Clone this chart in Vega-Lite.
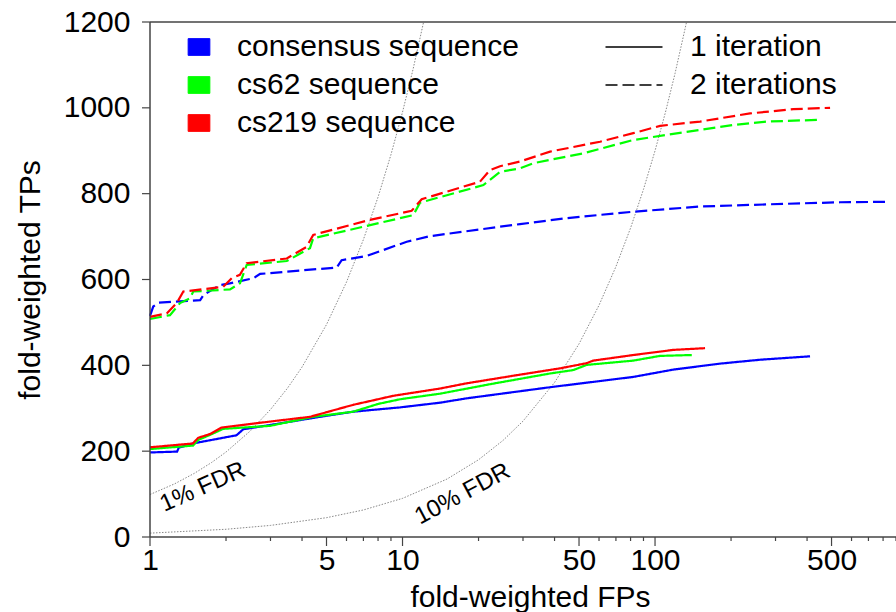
{
  "$schema": "https://vega.github.io/schema/vega-lite/v6.json",
  "width": 746,
  "height": 515,
  "autosize": {"type": "none"},
  "padding": {"left": 150, "top": 22, "right": 0, "bottom": 75},
  "background": "white",
  "config": {
    "view": {"stroke": null},
    "font": "Liberation Sans",
    "axis": {"grid": false, "domain": false, "ticks": false, "tickSize": 0, "labelFlush": false, "labelColor": "black", "labelFont": "Liberation Sans", "labelFontSize": 30, "titleFont": "Liberation Sans", "titleFontSize": 30, "titleFontWeight": "normal", "titleColor": "black"},
    "legend": {"labelFont": "Liberation Sans", "labelFontSize": 30, "labelColor": "black", "labelLimit": 500, "padding": 0}
  },
  "datasets": {
    "fdr": [
      {"fp": 1, "tp": 99, "fdr": "1%"}, {"fp": 1.25, "tp": 123.75, "fdr": "1%"}, {"fp": 1.5, "tp": 148.5, "fdr": "1%"}, {"fp": 1.75, "tp": 173.25, "fdr": "1%"}, {"fp": 2, "tp": 198, "fdr": "1%"}, {"fp": 2.5, "tp": 247.5, "fdr": "1%"}, {"fp": 3, "tp": 297, "fdr": "1%"}, {"fp": 3.5, "tp": 346.5, "fdr": "1%"}, {"fp": 4, "tp": 396, "fdr": "1%"}, {"fp": 5, "tp": 495, "fdr": "1%"}, {"fp": 6, "tp": 594, "fdr": "1%"}, {"fp": 7, "tp": 693, "fdr": "1%"}, {"fp": 8, "tp": 792, "fdr": "1%"}, {"fp": 9, "tp": 891, "fdr": "1%"}, {"fp": 10, "tp": 990, "fdr": "1%"}, {"fp": 11, "tp": 1089, "fdr": "1%"}, {"fp": 12.12, "tp": 1200, "fdr": "1%"},
      {"fp": 1, "tp": 9, "fdr": "10%"}, {"fp": 2, "tp": 18, "fdr": "10%"}, {"fp": 3, "tp": 27, "fdr": "10%"}, {"fp": 5, "tp": 45, "fdr": "10%"}, {"fp": 7, "tp": 63, "fdr": "10%"}, {"fp": 10, "tp": 90, "fdr": "10%"}, {"fp": 15, "tp": 135, "fdr": "10%"}, {"fp": 20, "tp": 180, "fdr": "10%"}, {"fp": 25, "tp": 225, "fdr": "10%"}, {"fp": 30, "tp": 270, "fdr": "10%"}, {"fp": 40, "tp": 360, "fdr": "10%"}, {"fp": 50, "tp": 450, "fdr": "10%"}, {"fp": 60, "tp": 540, "fdr": "10%"}, {"fp": 70, "tp": 630, "fdr": "10%"}, {"fp": 80, "tp": 720, "fdr": "10%"}, {"fp": 90, "tp": 810, "fdr": "10%"}, {"fp": 100, "tp": 900, "fdr": "10%"}, {"fp": 110, "tp": 990, "fdr": "10%"}, {"fp": 120, "tp": 1080, "fdr": "10%"}, {"fp": 133.3, "tp": 1200, "fdr": "10%"}
    ],
    "roc": [
      {"fp": 1.0, "tp": 197, "seq": "consensus sequence", "iter": "1 iteration"},
      {"fp": 1.28, "tp": 199, "seq": "consensus sequence", "iter": "1 iteration"},
      {"fp": 1.30, "tp": 208, "seq": "consensus sequence", "iter": "1 iteration"},
      {"fp": 1.48, "tp": 218, "seq": "consensus sequence", "iter": "1 iteration"},
      {"fp": 2.2, "tp": 237, "seq": "consensus sequence", "iter": "1 iteration"},
      {"fp": 2.34, "tp": 251, "seq": "consensus sequence", "iter": "1 iteration"},
      {"fp": 2.99, "tp": 261, "seq": "consensus sequence", "iter": "1 iteration"},
      {"fp": 4.71, "tp": 280, "seq": "consensus sequence", "iter": "1 iteration"},
      {"fp": 6.38, "tp": 292, "seq": "consensus sequence", "iter": "1 iteration"},
      {"fp": 9.78, "tp": 302, "seq": "consensus sequence", "iter": "1 iteration"},
      {"fp": 14.1, "tp": 313, "seq": "consensus sequence", "iter": "1 iteration"},
      {"fp": 17.9, "tp": 323, "seq": "consensus sequence", "iter": "1 iteration"},
      {"fp": 38.4, "tp": 349, "seq": "consensus sequence", "iter": "1 iteration"},
      {"fp": 82, "tp": 373, "seq": "consensus sequence", "iter": "1 iteration"},
      {"fp": 118, "tp": 390, "seq": "consensus sequence", "iter": "1 iteration"},
      {"fp": 181, "tp": 404, "seq": "consensus sequence", "iter": "1 iteration"},
      {"fp": 260, "tp": 413, "seq": "consensus sequence", "iter": "1 iteration"},
      {"fp": 411, "tp": 421, "seq": "consensus sequence", "iter": "1 iteration"},

      {"fp": 1.0, "tp": 205, "seq": "cs62 sequence", "iter": "1 iteration"},
      {"fp": 1.48, "tp": 213, "seq": "cs62 sequence", "iter": "1 iteration"},
      {"fp": 1.55, "tp": 226, "seq": "cs62 sequence", "iter": "1 iteration"},
      {"fp": 1.73, "tp": 238, "seq": "cs62 sequence", "iter": "1 iteration"},
      {"fp": 1.95, "tp": 252, "seq": "cs62 sequence", "iter": "1 iteration"},
      {"fp": 2.99, "tp": 259, "seq": "cs62 sequence", "iter": "1 iteration"},
      {"fp": 4.43, "tp": 280, "seq": "cs62 sequence", "iter": "1 iteration"},
      {"fp": 6.38, "tp": 292, "seq": "cs62 sequence", "iter": "1 iteration"},
      {"fp": 8.0, "tp": 310, "seq": "cs62 sequence", "iter": "1 iteration"},
      {"fp": 9.78, "tp": 321, "seq": "cs62 sequence", "iter": "1 iteration"},
      {"fp": 14.1, "tp": 334, "seq": "cs62 sequence", "iter": "1 iteration"},
      {"fp": 22.2, "tp": 356, "seq": "cs62 sequence", "iter": "1 iteration"},
      {"fp": 38.4, "tp": 381, "seq": "cs62 sequence", "iter": "1 iteration"},
      {"fp": 47.5, "tp": 389, "seq": "cs62 sequence", "iter": "1 iteration"},
      {"fp": 53.6, "tp": 401, "seq": "cs62 sequence", "iter": "1 iteration"},
      {"fp": 82, "tp": 411, "seq": "cs62 sequence", "iter": "1 iteration"},
      {"fp": 104.7, "tp": 422, "seq": "cs62 sequence", "iter": "1 iteration"},
      {"fp": 139.8, "tp": 424, "seq": "cs62 sequence", "iter": "1 iteration"},

      {"fp": 1.0, "tp": 209, "seq": "cs219 sequence", "iter": "1 iteration"},
      {"fp": 1.48, "tp": 218, "seq": "cs219 sequence", "iter": "1 iteration"},
      {"fp": 1.55, "tp": 231, "seq": "cs219 sequence", "iter": "1 iteration"},
      {"fp": 1.73, "tp": 240, "seq": "cs219 sequence", "iter": "1 iteration"},
      {"fp": 1.92, "tp": 255, "seq": "cs219 sequence", "iter": "1 iteration"},
      {"fp": 2.99, "tp": 269, "seq": "cs219 sequence", "iter": "1 iteration"},
      {"fp": 4.30, "tp": 280, "seq": "cs219 sequence", "iter": "1 iteration"},
      {"fp": 6.38, "tp": 308, "seq": "cs219 sequence", "iter": "1 iteration"},
      {"fp": 9.19, "tp": 329, "seq": "cs219 sequence", "iter": "1 iteration"},
      {"fp": 14.1, "tp": 346, "seq": "cs219 sequence", "iter": "1 iteration"},
      {"fp": 17.9, "tp": 358, "seq": "cs219 sequence", "iter": "1 iteration"},
      {"fp": 28.3, "tp": 377, "seq": "cs219 sequence", "iter": "1 iteration"},
      {"fp": 42.05, "tp": 393, "seq": "cs219 sequence", "iter": "1 iteration"},
      {"fp": 53.6, "tp": 405, "seq": "cs219 sequence", "iter": "1 iteration"},
      {"fp": 56.9, "tp": 411, "seq": "cs219 sequence", "iter": "1 iteration"},
      {"fp": 82, "tp": 424, "seq": "cs219 sequence", "iter": "1 iteration"},
      {"fp": 118.2, "tp": 436, "seq": "cs219 sequence", "iter": "1 iteration"},
      {"fp": 157.8, "tp": 440, "seq": "cs219 sequence", "iter": "1 iteration"},

      {"fp": 1.0, "tp": 515, "seq": "consensus sequence", "iter": "2 iterations"},
      {"fp": 1.03, "tp": 537, "seq": "consensus sequence", "iter": "2 iterations"},
      {"fp": 1.08, "tp": 546, "seq": "consensus sequence", "iter": "2 iterations"},
      {"fp": 1.58, "tp": 552, "seq": "consensus sequence", "iter": "2 iterations"},
      {"fp": 1.63, "tp": 564, "seq": "consensus sequence", "iter": "2 iterations"},
      {"fp": 1.89, "tp": 587, "seq": "consensus sequence", "iter": "2 iterations"},
      {"fp": 2.07, "tp": 591, "seq": "consensus sequence", "iter": "2 iterations"},
      {"fp": 2.57, "tp": 603, "seq": "consensus sequence", "iter": "2 iterations"},
      {"fp": 2.73, "tp": 613, "seq": "consensus sequence", "iter": "2 iterations"},
      {"fp": 5.49, "tp": 628, "seq": "consensus sequence", "iter": "2 iterations"},
      {"fp": 5.74, "tp": 645, "seq": "consensus sequence", "iter": "2 iterations"},
      {"fp": 7.22, "tp": 655, "seq": "consensus sequence", "iter": "2 iterations"},
      {"fp": 10.39, "tp": 688, "seq": "consensus sequence", "iter": "2 iterations"},
      {"fp": 12.85, "tp": 701, "seq": "consensus sequence", "iter": "2 iterations"},
      {"fp": 24.33, "tp": 723, "seq": "consensus sequence", "iter": "2 iterations"},
      {"fp": 29.2, "tp": 729, "seq": "consensus sequence", "iter": "2 iterations"},
      {"fp": 44.7, "tp": 743, "seq": "consensus sequence", "iter": "2 iterations"},
      {"fp": 82, "tp": 758, "seq": "consensus sequence", "iter": "2 iterations"},
      {"fp": 150.8, "tp": 770, "seq": "consensus sequence", "iter": "2 iterations"},
      {"fp": 277, "tp": 775, "seq": "consensus sequence", "iter": "2 iterations"},
      {"fp": 540, "tp": 780, "seq": "consensus sequence", "iter": "2 iterations"},
      {"fp": 814, "tp": 781, "seq": "consensus sequence", "iter": "2 iterations"},

      {"fp": 1.0, "tp": 508, "seq": "cs62 sequence", "iter": "2 iterations"},
      {"fp": 1.2, "tp": 517, "seq": "cs62 sequence", "iter": "2 iterations"},
      {"fp": 1.315, "tp": 545, "seq": "cs62 sequence", "iter": "2 iterations"},
      {"fp": 1.44, "tp": 556, "seq": "cs62 sequence", "iter": "2 iterations"},
      {"fp": 1.484, "tp": 572, "seq": "cs62 sequence", "iter": "2 iterations"},
      {"fp": 2.074, "tp": 577, "seq": "cs62 sequence", "iter": "2 iterations"},
      {"fp": 2.272, "tp": 591, "seq": "cs62 sequence", "iter": "2 iterations"},
      {"fp": 2.415, "tp": 634, "seq": "cs62 sequence", "iter": "2 iterations"},
      {"fp": 3.48, "tp": 643, "seq": "cs62 sequence", "iter": "2 iterations"},
      {"fp": 4.30, "tp": 673, "seq": "cs62 sequence", "iter": "2 iterations"},
      {"fp": 4.43, "tp": 696, "seq": "cs62 sequence", "iter": "2 iterations"},
      {"fp": 11.03, "tp": 750, "seq": "cs62 sequence", "iter": "2 iterations"},
      {"fp": 11.73, "tp": 779, "seq": "cs62 sequence", "iter": "2 iterations"},
      {"fp": 20.9, "tp": 820, "seq": "cs62 sequence", "iter": "2 iterations"},
      {"fp": 24.33, "tp": 851, "seq": "cs62 sequence", "iter": "2 iterations"},
      {"fp": 29.2, "tp": 859, "seq": "cs62 sequence", "iter": "2 iterations"},
      {"fp": 32.96, "tp": 871, "seq": "cs62 sequence", "iter": "2 iterations"},
      {"fp": 52.0, "tp": 894, "seq": "cs62 sequence", "iter": "2 iterations"},
      {"fp": 82, "tp": 925, "seq": "cs62 sequence", "iter": "2 iterations"},
      {"fp": 111.3, "tp": 937, "seq": "cs62 sequence", "iter": "2 iterations"},
      {"fp": 204.2, "tp": 960, "seq": "cs62 sequence", "iter": "2 iterations"},
      {"fp": 277, "tp": 968, "seq": "cs62 sequence", "iter": "2 iterations"},
      {"fp": 443.4, "tp": 972, "seq": "cs62 sequence", "iter": "2 iterations"},

      {"fp": 1.0, "tp": 513, "seq": "cs219 sequence", "iter": "2 iterations"},
      {"fp": 1.165, "tp": 521, "seq": "cs219 sequence", "iter": "2 iterations"},
      {"fp": 1.276, "tp": 545, "seq": "cs219 sequence", "iter": "2 iterations"},
      {"fp": 1.355, "tp": 572, "seq": "cs219 sequence", "iter": "2 iterations"},
      {"fp": 1.95, "tp": 583, "seq": "cs219 sequence", "iter": "2 iterations"},
      {"fp": 2.106, "tp": 603, "seq": "cs219 sequence", "iter": "2 iterations"},
      {"fp": 2.27, "tp": 611, "seq": "cs219 sequence", "iter": "2 iterations"},
      {"fp": 2.415, "tp": 638, "seq": "cs219 sequence", "iter": "2 iterations"},
      {"fp": 3.48, "tp": 649, "seq": "cs219 sequence", "iter": "2 iterations"},
      {"fp": 4.17, "tp": 676, "seq": "cs219 sequence", "iter": "2 iterations"},
      {"fp": 4.43, "tp": 704, "seq": "cs219 sequence", "iter": "2 iterations"},
      {"fp": 7.43, "tp": 739, "seq": "cs219 sequence", "iter": "2 iterations"},
      {"fp": 10.87, "tp": 760, "seq": "cs219 sequence", "iter": "2 iterations"},
      {"fp": 11.91, "tp": 787, "seq": "cs219 sequence", "iter": "2 iterations"},
      {"fp": 20.27, "tp": 828, "seq": "cs219 sequence", "iter": "2 iterations"},
      {"fp": 22.2, "tp": 855, "seq": "cs219 sequence", "iter": "2 iterations"},
      {"fp": 24.33, "tp": 864, "seq": "cs219 sequence", "iter": "2 iterations"},
      {"fp": 29.2, "tp": 875, "seq": "cs219 sequence", "iter": "2 iterations"},
      {"fp": 38.4, "tp": 898, "seq": "cs219 sequence", "iter": "2 iterations"},
      {"fp": 60.56, "tp": 921, "seq": "cs219 sequence", "iter": "2 iterations"},
      {"fp": 82, "tp": 941, "seq": "cs219 sequence", "iter": "2 iterations"},
      {"fp": 104.7, "tp": 958, "seq": "cs219 sequence", "iter": "2 iterations"},
      {"fp": 150.8, "tp": 968, "seq": "cs219 sequence", "iter": "2 iterations"},
      {"fp": 237.8, "tp": 987, "seq": "cs219 sequence", "iter": "2 iterations"},
      {"fp": 352.9, "tp": 997, "seq": "cs219 sequence", "iter": "2 iterations"},
      {"fp": 493.3, "tp": 1000, "seq": "cs219 sequence", "iter": "2 iterations"}
    ],
    "hborder": [{"tp": 0}, {"tp": 1200}],
    "vborder": [{"fp": 1}],
    "xmajor": [{"fp": 1}, {"fp": 5}, {"fp": 10}, {"fp": 50}, {"fp": 100}, {"fp": 500}],
    "xminor": [{"fp": 2}, {"fp": 3}, {"fp": 4}, {"fp": 6}, {"fp": 7}, {"fp": 8}, {"fp": 9}, {"fp": 20}, {"fp": 30}, {"fp": 40}, {"fp": 60}, {"fp": 70}, {"fp": 80}, {"fp": 90}, {"fp": 200}, {"fp": 300}, {"fp": 400}, {"fp": 600}, {"fp": 700}, {"fp": 800}, {"fp": 900}],
    "yticks": [{"tp": 0}, {"tp": 200}, {"tp": 400}, {"tp": 600}, {"tp": 800}, {"tp": 1000}, {"tp": 1200}],
    "lab1": [{"fp": 1.62, "tp": 116, "label": "1% FDR"}],
    "lab2": [{"fp": 17.3, "tp": 100, "label": "10% FDR"}]
  },
  "layer": [
    {
      "data": {"name": "fdr"},
      "mark": {"type": "line", "color": "#888", "strokeWidth": 1, "strokeDash": [1.5, 1.5]},
      "encoding": {
        "x": {"field": "fp", "type": "quantitative", "scale": {"type": "log", "domain": [1, 900], "nice": false}},
        "y": {"field": "tp", "type": "quantitative", "scale": {"domain": [0, 1200], "nice": false}},
        "detail": {"field": "fdr"}
      }
    },
    {
      "data": {"name": "roc"},
      "mark": {"type": "point", "shape": "square", "filled": true, "opacity": 0},
      "encoding": {
        "x": {"field": "fp", "type": "quantitative", "scale": {"type": "log", "domain": [1, 900], "nice": false}},
        "y": {"field": "tp", "type": "quantitative", "scale": {"domain": [0, 1200], "nice": false}},
        "color": {"field": "seq", "type": "nominal", "scale": {"domain": ["consensus sequence", "cs62 sequence", "cs219 sequence"], "range": ["#0000ff", "#00ff00", "#ff0000"]},
          "legend": {"title": null, "orient": "none", "legendX": 34, "legendY": 10, "symbolType": "M-1.3,-1H1.3V1H-1.3Z", "symbolSize": 279, "symbolOpacity": 1, "symbolStrokeColor": "#333", "symbolStrokeWidth": 1, "labelOffset": 23, "rowPadding": 8}}
      }
    },
    {
      "data": {"name": "roc"},
      "mark": {"type": "line", "strokeWidth": 2.2},
      "encoding": {
        "x": {"field": "fp", "type": "quantitative", "scale": {"type": "log", "domain": [1, 900], "nice": false},
          "axis": {"orient": "bottom", "title": "fold-weighted FPs", "values": [1, 5, 10, 50, 100, 500], "format": "d", "domain": false, "ticks": false, "tickSize": 0,
            "labelOverlap": false, "labelBound": false, "labelPadding": 8, "titlePadding": 7, "titleX": 380}},
        "y": {"field": "tp", "type": "quantitative", "scale": {"domain": [0, 1200], "nice": false},
          "axis": {"title": "fold-weighted TPs", "tickCount": 6, "format": "d", "domain": false, "ticks": false, "tickSize": 0, "labelPadding": 20, "titlePadding": 18}},
        "color": {"field": "seq", "type": "nominal", "legend": null},
        "strokeDash": {"field": "iter", "type": "nominal", "scale": {"domain": ["1 iteration", "2 iterations"], "range": [[1, 0], [12, 5]]},
          "legend": {"title": null, "orient": "none", "legendX": 469, "legendY": 10, "symbolType": "M-3.4,0H3.4", "symbolSize": 281, "symbolStrokeColor": "black", "symbolStrokeWidth": 1.5, "labelOffset": 41, "rowPadding": 8}}
      }
    },
    {
      "data": {"name": "hborder"},
      "mark": {"type": "rule", "color": "#444", "strokeWidth": 1.5},
      "encoding": {
        "y": {"field": "tp", "type": "quantitative", "scale": {"domain": [0, 1200], "nice": false}}
      }
    },
    {
      "data": {"name": "vborder"},
      "mark": {"type": "rule", "color": "#444", "strokeWidth": 1.5},
      "encoding": {
        "x": {"field": "fp", "type": "quantitative", "scale": {"type": "log", "domain": [1, 900], "nice": false}}
      }
    },
    {
      "data": {"name": "xmajor"},
      "mark": {"type": "tick", "orient": "vertical", "size": 9, "thickness": 1.2, "color": "#444", "opacity": 1, "yOffset": 4.5},
      "encoding": {
        "x": {"field": "fp", "type": "quantitative", "scale": {"type": "log", "domain": [1, 900], "nice": false}},
        "y": {"datum": 0, "type": "quantitative", "scale": {"domain": [0, 1200], "nice": false}}
      }
    },
    {
      "data": {"name": "xminor"},
      "mark": {"type": "tick", "orient": "vertical", "size": 4, "thickness": 1.2, "color": "#444", "opacity": 1, "yOffset": 2},
      "encoding": {
        "x": {"field": "fp", "type": "quantitative", "scale": {"type": "log", "domain": [1, 900], "nice": false}},
        "y": {"datum": 0, "type": "quantitative", "scale": {"domain": [0, 1200], "nice": false}}
      }
    },
    {
      "data": {"name": "yticks"},
      "mark": {"type": "tick", "orient": "horizontal", "size": 8, "thickness": 1.2, "color": "#444", "opacity": 1, "xOffset": -4},
      "encoding": {
        "y": {"field": "tp", "type": "quantitative", "scale": {"domain": [0, 1200], "nice": false}},
        "x": {"datum": 1, "type": "quantitative", "scale": {"type": "log", "domain": [1, 900], "nice": false}}
      }
    },
    {
      "data": {"name": "lab1"},
      "mark": {"type": "text", "angle": -24, "fontSize": 24, "font": "Liberation Sans", "color": "black", "align": "center", "baseline": "middle"},
      "encoding": {
        "x": {"field": "fp", "type": "quantitative", "scale": {"type": "log", "domain": [1, 900], "nice": false}},
        "y": {"field": "tp", "type": "quantitative", "scale": {"domain": [0, 1200], "nice": false}},
        "text": {"field": "label"}
      }
    },
    {
      "data": {"name": "lab2"},
      "mark": {"type": "text", "angle": -28, "fontSize": 24, "font": "Liberation Sans", "color": "black", "align": "center", "baseline": "middle"},
      "encoding": {
        "x": {"field": "fp", "type": "quantitative", "scale": {"type": "log", "domain": [1, 900], "nice": false}},
        "y": {"field": "tp", "type": "quantitative", "scale": {"domain": [0, 1200], "nice": false}},
        "text": {"field": "label"}
      }
    }
  ]
}
